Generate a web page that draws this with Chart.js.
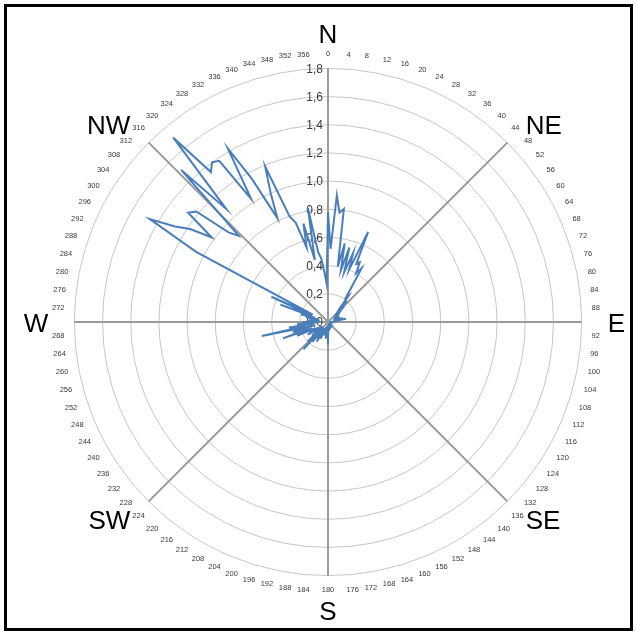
<!DOCTYPE html>
<html>
<head>
<meta charset="utf-8">
<script src="https://cdn.jsdelivr.net/npm/chart.js@4.4.1/dist/chart.umd.min.js"></script>
<style>
  html, body { margin: 0; padding: 0; background: #fff; }
</style>
</head>
<body>
<canvas id="myChart" width="637" height="633"></canvas>
<script>
// wind direction in degrees (one value every 2 degrees, labels shown every 4)
const angles = [
  0, 2, 4, 6, 8, 10, 12, 14, 16, 18, 20, 22, 24, 26, 28, 30, 32, 34, 36, 38,
  40, 42, 44, 46, 48, 50, 52, 54, 56, 58, 60, 62, 64, 66, 68, 70, 72, 74, 76, 78,
  80, 82, 84, 86, 88, 90, 92, 94, 96, 98, 100, 102, 104, 106, 108, 110, 112, 114, 116, 118,
  120, 122, 124, 126, 128, 130, 132, 134, 136, 138, 140, 142, 144, 146, 148, 150, 152, 154, 156, 158,
  160, 162, 164, 166, 168, 170, 172, 174, 176, 178, 180, 182, 184, 186, 188, 190, 192, 194, 196, 198,
  200, 202, 204, 206, 208, 210, 212, 214, 216, 218, 220, 222, 224, 226, 228, 230, 232, 234, 236, 238,
  240, 242, 244, 246, 248, 250, 252, 254, 256, 258, 260, 262, 264, 266, 268, 270, 272, 274, 276, 278,
  280, 282, 284, 286, 288, 290, 292, 294, 296, 298, 300, 302, 304, 306, 308, 310, 312, 314, 316, 318,
  320, 322, 324, 326, 328, 330, 332, 334, 336, 338, 340, 342, 344, 346, 348, 350, 352, 354, 356, 358
];

const values = [
  0.78, 0.52, 0.90, 0.78, 0.81, 0.40, 0.57, 0.38, 0.55, 0.37, 0.52, 0.40, 0.70, 0.46, 0.48, 0.40, 0.45, 0.30, 0.22, 0.24,
  0.15, 0.20, 0.12, 0.16, 0.08, 0.12, 0.06, 0.10, 0.05, 0.08, 0.05, 0.09, 0.05, 0.07, 0.04, 0.06, 0.09, 0.05, 0.11, 0.04,
  0.13, 0.05, 0.07, 0.03, 0.05, 0.02, 0.04, 0.02, 0.03, 0.02, 0.02, 0.01, 0.02, 0.01, 0.03, 0.01, 0.02, 0.01, 0.02, 0.01,
  0.03, 0.01, 0.02, 0.01, 0.02, 0.04, 0.01, 0.03, 0.01, 0.02, 0.03, 0.01, 0.04, 0.01, 0.03, 0.02, 0.05, 0.01, 0.03, 0.02,
  0.05, 0.02, 0.04, 0.02, 0.06, 0.03, 0.05, 0.02, 0.07, 0.03, 0.16, 0.04, 0.08, 0.03, 0.12, 0.04, 0.10, 0.03, 0.08, 0.04,
  0.10, 0.05, 0.13, 0.05, 0.10, 0.16, 0.06, 0.14, 0.05, 0.18, 0.08, 0.26, 0.10, 0.20, 0.06, 0.15, 0.05, 0.12, 0.06, 0.17,
  0.08, 0.15, 0.10, 0.24, 0.12, 0.34, 0.14, 0.26, 0.10, 0.48, 0.16, 0.28, 0.10, 0.22, 0.08, 0.18, 0.06, 0.14, 0.07, 0.12,
  0.06, 0.16, 0.08, 0.20, 0.10, 0.36, 0.12, 0.44, 0.12, 1.06, 1.46, 1.28, 1.18, 1.02, 1.26, 1.22, 0.95, 0.88, 1.50, 1.08,
  1.71, 1.35, 1.40, 1.38, 1.03, 1.42, 1.15, 0.82, 1.00, 1.19, 0.80, 0.74, 0.55, 0.72, 0.45, 0.82, 0.50, 0.45, 0.35, 0.27
];

const tickLabels = ['0,0', '0,2', '0,4', '0,6', '0,8', '1,0', '1,2', '1,4', '1,6', '1,8'];

const compassNames = ['N', 'NE', 'E', 'SE', 'S', 'SW', 'W', 'NW'];
const compassAngles = [0, 45, 90, 135, 180, 225, 270, 315];

// spokes, value labels, compass letters and frame
const extras = {
  id: 'extras',
  beforeDatasetsDraw(chart) {
    const r = chart.scales.r;
    const ctx = chart.ctx;
    const step = 360 / angles.length;
    ctx.save();
    ctx.strokeStyle = '#9a9a9a';
    ctx.lineWidth = 2;
    compassAngles.forEach(a => {
      const p = r.getPointPosition(a / step, r.drawingArea);
      ctx.beginPath();
      ctx.moveTo(r.xCenter, r.yCenter);
      ctx.lineTo(p.x, p.y);
      ctx.stroke();
    });

    ctx.fillStyle = '#3a3a3a';
    ctx.font = '12px "Liberation Sans", Arial, sans-serif';
    ctx.textAlign = 'right';
    ctx.textBaseline = 'middle';
    tickLabels.forEach(lbl => {
      const v = parseFloat(lbl.replace(',', '.'));
      const d = r.getDistanceFromCenterForValue(v);
      ctx.fillText(lbl, r.xCenter - 5, r.yCenter - d + 1);
    });
    ctx.restore();
  },
  afterDraw(chart) {
    const r = chart.scales.r;
    const ctx = chart.ctx;
    const step = 360 / angles.length;
    ctx.save();
    ctx.fillStyle = '#000';
    ctx.font = '26px "Liberation Sans", Arial, sans-serif';
    ctx.textAlign = 'center';
    ctx.textBaseline = 'alphabetic';
    const cap = 19;
    compassNames.forEach((name, i) => {
      const a = compassAngles[i];
      const p = r.getPointPosition(a / step, r.drawingArea + 26);
      const w = ctx.measureText(name).width;
      const s = Math.round(Math.sin(a * Math.PI / 180) * 100) / 100;
      const c = Math.round(Math.cos(a * Math.PI / 180) * 100) / 100;
      let x = p.x + Math.sign(s) * w / 2;
      let y = p.y;
      if (s === 0) y -= Math.sign(c) * (cap / 2 - 1);
      ctx.fillText(name, x, y + cap / 2);
    });

    ctx.strokeStyle = '#000';
    ctx.lineWidth = 3;
    ctx.strokeRect(5.5, 5.5, 626, 624);
    ctx.restore();
  }
};

const ctx = document.getElementById('myChart').getContext('2d');
new Chart(ctx, {
  type: 'radar',
  data: {
    labels: angles,
    datasets: [{
      data: values,
      borderColor: '#4a7ebb',
      borderWidth: 2,
      pointRadius: 0,
      fill: false,
      tension: 0
    }]
  },
  options: {
    responsive: false,
    animation: false,
    layout: { padding: { left: 50, right: 34, top: 49, bottom: 37 } },
    plugins: {
      legend: { display: false },
      tooltip: { enabled: false }
    },
    scales: {
      r: {
        min: 0,
        max: 1.8,
        ticks: { display: false, stepSize: 0.2 },
        grid: { circular: true, color: '#c6c6c6', lineWidth: 1 },
        angleLines: { display: false },
        pointLabels: {
          display: true,
          padding: 10,
          color: '#3a3a3a',
          font: { size: 7.5, family: '"Liberation Sans", Arial, sans-serif' },
          callback: lbl => (Number(lbl) % 4 === 0 ? String(lbl) : '')
        }
      }
    }
  },
  plugins: [extras]
});
</script>
</body>
</html>
